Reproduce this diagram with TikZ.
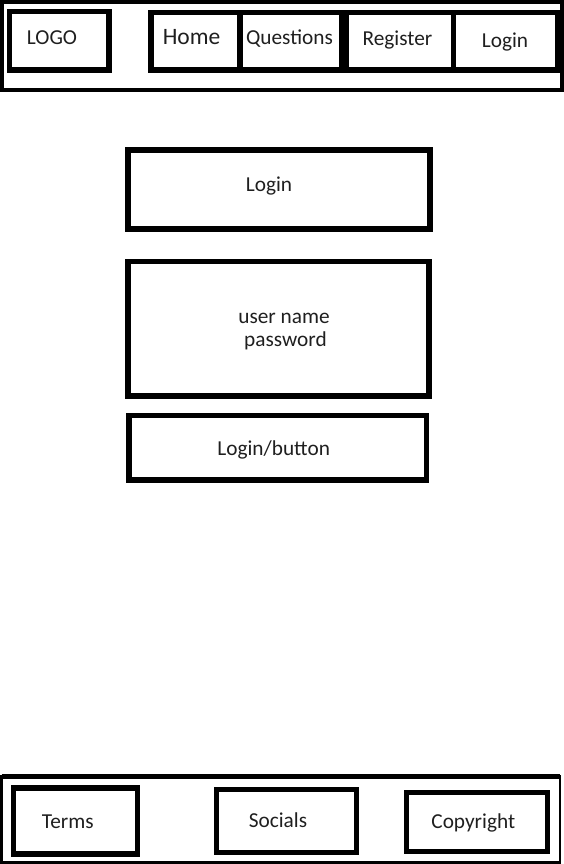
\documentclass[tikz,border=0pt]{standalone}
\usepackage{fontspec}
\setmainfont{Carlito}
\begin{document}
\begin{tikzpicture}[x=1pt,y=-1pt,
  frame/.style={draw=black,line width=4pt,inner sep=0pt,outer sep=0pt},
  box/.style={draw=black,line width=5.3pt,inner sep=0pt,outer sep=0pt,fill=none},
  lbl/.style={anchor=base,inner sep=0pt,text=black!88,font=\fontsize{21.3}{24}\selectfont},
  big/.style={lbl,font=\fontsize{23.5}{27}\selectfont}]
\useasboundingbox (0,0) rectangle (563,864);
% header
\node[frame,minimum width=560pt,minimum height=88pt] (header) at (281.5,46) {};
\node[box,minimum width=99.5pt,minimum height=58.3pt] (logo) at (59.25,40.85) {};
\node[box,minimum width=89pt,minimum height=57.5pt] (home) at (195.5,41.25) {};
\node[box,minimum width=102pt,minimum height=57.5pt] (questions) at (291,41.25) {};
\node[box,minimum width=106.8pt,minimum height=57.5pt] (register) at (399.9,41.25) {};
\node[box,minimum width=104.2pt,minimum height=57.5pt] (login) at (505.4,41.25) {};
\node[lbl] (tlogo) at (52,44.5) {LOGO};
\node[big] (thome) at (191.5,45) {Home};
\node[lbl] (tquestions) at (289.5,45) {Questions};
\node[lbl] (tregister) at (397.5,46) {Register};
\node[lbl] (tlogin) at (505,48) {Login};
% main
\node[box,minimum width=302pt,minimum height=79pt] (mlogin) at (279,189.5) {};
\node[box,minimum width=301pt,minimum height=134.5pt] (creds) at (278.5,328.75) {};
\node[box,minimum width=297.7pt,minimum height=64.5pt] (button) at (277.85,447.75) {};
\node[lbl] (tmlogin) at (269,191.5) {Login};
\node[lbl] (tuser) at (284,323.3) {user name};
\node[lbl] (tpass) at (285.5,346.7) {password};
\node[lbl] (tbutton) at (273.7,455) {Login/button};
% footer
\node[draw=black,line width=2.5pt,inner sep=0pt,outer sep=0pt,minimum width=558.5pt,minimum height=86pt] (footer) at (280.75,819.5) {};
\draw[line width=5pt] (footer.north west) -- (footer.north east);
\draw[line width=3.5pt] (footer.north west) -- (footer.south west);
\node[box,minimum width=124pt,minimum height=66pt] (terms) at (75.5,821) {};
\node[box,minimum width=139.6pt,minimum height=62.4pt] (socials) at (286.5,821) {};
\node[box,minimum width=140.9pt,minimum height=59pt] (copyright) at (476.75,822.3) {};
\node[lbl] (tterms) at (67.8,828) {Terms};
\node[lbl] (tsocials) at (278,827.3) {Socials};
\node[lbl] (tcopyright) at (473.3,828) {Copyright};
\end{tikzpicture}
\end{document}
